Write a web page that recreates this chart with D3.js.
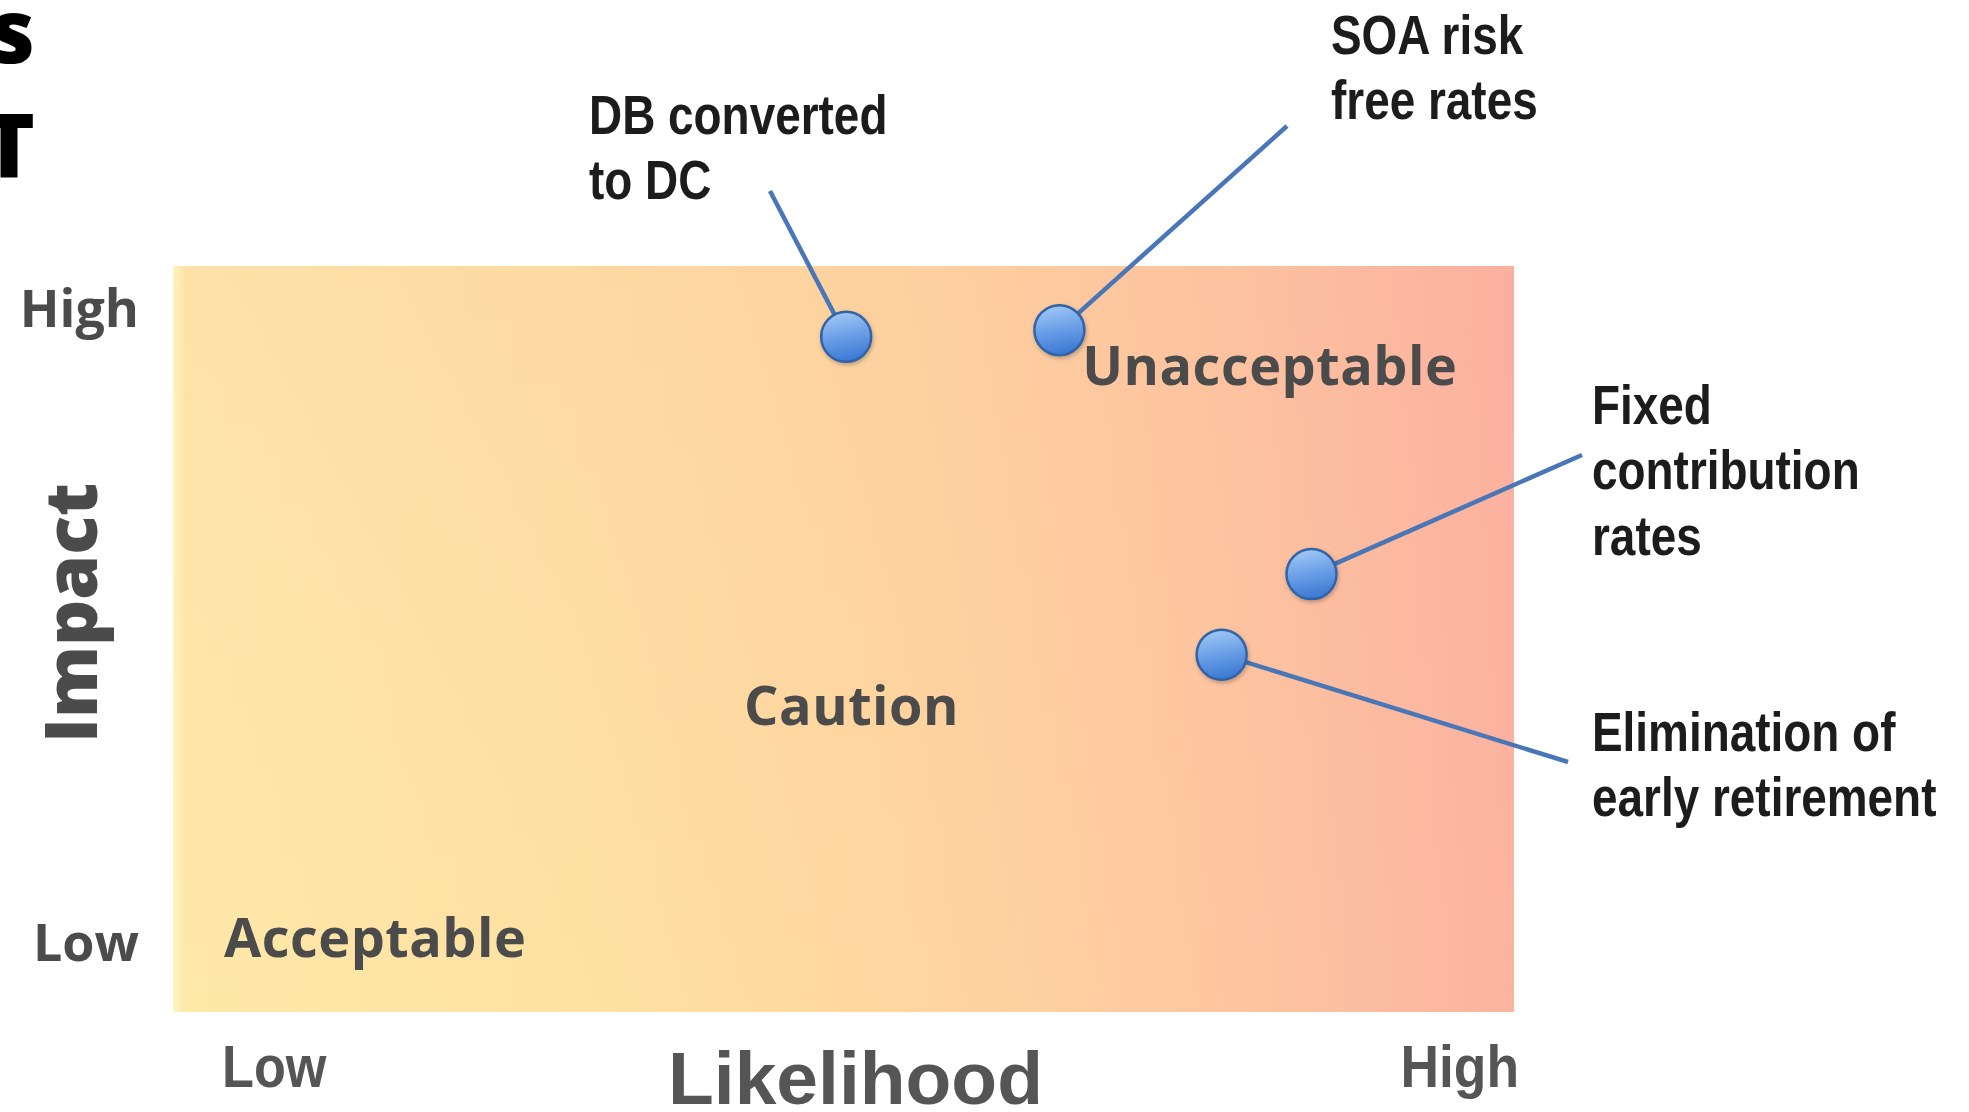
<!DOCTYPE html>
<html>
<head>
<meta charset="utf-8">
<script src="https://cdn.jsdelivr.net/npm/d3@7"></script>
<style>
  html, body { margin: 0; padding: 0; background: #ffffff; }
  svg { display: block; }
</style>
</head>
<body>
<svg id="chart" width="1969" height="1112"></svg>
<script>
// Risk items plotted on the likelihood / impact matrix (0 = low, 1 = high)
const riskLines = [
  ["DB converted", "to DC"],
  ["SOA risk", "free rates"],
  ["Fixed", "contribution", "rates"],
  ["Elimination of", "early retirement"]
];
const likelihood = [0.502, 0.661, 0.849, 0.782];
const impact     = [0.905, 0.914, 0.587, 0.479];

// Zone names and axis wording
const zoneNames = ["Acceptable", "Caution", "Unacceptable"];
const levelLabels = ["Low", "High"];
const xTitle = "Likelihood";
const yTitle = "Impact";
const cutTitle = ["s", "T"];

// Layout: where each callout's leader line ends and its text block starts
const calloutLayout = [
  { ex: 770,  ey: 191, tx: 589,  ty: 134 },
  { ex: 1287, ey: 126, tx: 1331, ty: 54 },
  { ex: 1582, ey: 455, tx: 1592, ty: 424 },
  { ex: 1568, ey: 762, tx: 1592, ty: 751 }
];
// Zone label anchors in scale units
const zoneLayout = [
  { u: 0.038, v: 0.074, anchor: "start" },
  { u: 0.506, v: 0.385, anchor: "middle" },
  { u: 0.678, v: 0.840, anchor: "start" }
];

const svg = d3.select("#chart");
const plot = { left: 173, right: 1514, top: 266, bottom: 1012 };

const x = d3.scaleLinear().domain([0, 1]).range([plot.left, plot.right]);
const y = d3.scaleLinear().domain([0, 1]).range([plot.bottom, plot.top]);

const defs = svg.append("defs");

// Heat background: pale yellow on the left to salmon on the right
const bg = defs.append("linearGradient")
  .attr("id", "heat")
  .attr("x1", 0).attr("y1", 0).attr("x2", 1).attr("y2", 0);
[
  [0.000, "#fee9a9"],
  [0.300, "#fee1a3"],
  [0.550, "#ffd69f"],
  [0.800, "#fdc5a0"],
  [1.000, "#fbb3a0"]
].forEach(([o, c]) => bg.append("stop").attr("offset", o).attr("stop-color", c));

// Slightly warmer tone towards the top
const tint = defs.append("linearGradient")
  .attr("id", "tint")
  .attr("x1", 0).attr("y1", 0).attr("x2", 0).attr("y2", 1);
tint.append("stop").attr("offset", 0).attr("stop-color", "#f59a9a").attr("stop-opacity", 0.10);
tint.append("stop").attr("offset", 1).attr("stop-color", "#f59a9a").attr("stop-opacity", 0);

// Pale rim along the left edge
const rim = defs.append("linearGradient")
  .attr("id", "rim")
  .attr("x1", 0).attr("y1", 0).attr("x2", 1).attr("y2", 0);
rim.append("stop").attr("offset", 0).attr("stop-color", "#fff6c4").attr("stop-opacity", 0.9);
rim.append("stop").attr("offset", 1).attr("stop-color", "#fff6c4").attr("stop-opacity", 0);

// Glossy blue markers
const dotGrad = defs.append("linearGradient")
  .attr("id", "dot").attr("x1", 0.3).attr("y1", 0).attr("x2", 0.5).attr("y2", 1);
dotGrad.append("stop").attr("offset", 0).attr("stop-color", "#a3c9f7");
dotGrad.append("stop").attr("offset", 0.5).attr("stop-color", "#6a9fe6");
dotGrad.append("stop").attr("offset", 1).attr("stop-color", "#3a78d2");

const shadow = defs.append("filter").attr("id", "shadow")
  .attr("x", -0.5).attr("y", -0.5).attr("width", 2).attr("height", 2);
shadow.append("feDropShadow").attr("dx", 1).attr("dy", 2)
  .attr("stdDeviation", 2).attr("flood-color", "#000").attr("flood-opacity", 0.25);

const plotW = x(1) - x(0), plotH = y(0) - y(1);
svg.append("rect")
  .attr("x", x(0)).attr("y", y(1))
  .attr("width", plotW).attr("height", plotH)
  .attr("fill", "url(#heat)");
svg.append("rect")
  .attr("x", x(0)).attr("y", y(1))
  .attr("width", plotW).attr("height", plotH)
  .attr("fill", "url(#tint)");
svg.append("rect")
  .attr("x", x(0)).attr("y", y(1))
  .attr("width", 12).attr("height", plotH)
  .attr("fill", "url(#rim)");

// Cropped heading letters at the top-left edge
svg.append("g")
  .selectAll("text")
  .data(cutTitle)
  .join("text")
  .attr("x", 35)
  .attr("y", (d, i) => i === 0 ? 63 : 177)
  .attr("text-anchor", "end")
  .attr("font-family", "'Open Sans', sans-serif")
  .attr("font-weight", 800)
  .attr("font-size", 88)
  .attr("fill", "#000")
  .text(d => d);

// Zone labels
const zoneFont = "'Open Sans', sans-serif";
svg.append("g")
  .selectAll("text")
  .data(zoneNames)
  .join("text")
  .attr("x", (d, i) => x(zoneLayout[i].u))
  .attr("y", (d, i) => y(zoneLayout[i].v))
  .attr("text-anchor", (d, i) => zoneLayout[i].anchor)
  .attr("font-family", zoneFont)
  .attr("font-weight", 700)
  .attr("font-size", 54)
  .attr("letter-spacing", 0.5)
  .attr("fill", "#4b4b4b")
  .text(d => d);

// Impact axis: level labels and title
svg.append("g")
  .selectAll("text")
  .data(levelLabels)
  .join("text")
  .attr("x", 139)
  .attr("y", d => d === "High" ? 327 : 961)
  .attr("text-anchor", "end")
  .attr("font-family", zoneFont)
  .attr("font-weight", 700)
  .attr("font-size", 52)
  .attr("fill", "#4b4b4b")
  .text(d => d);

svg.append("text")
  .attr("transform", `translate(97,${(y(0) + y(1)) / 2 - 26}) rotate(-90)`)
  .attr("text-anchor", "middle")
  .attr("font-family", zoneFont)
  .attr("font-weight", 800)
  .attr("font-size", 72)
  .attr("fill", "#4b4b4b")
  .text(yTitle);

// Likelihood axis: level labels and title
const xl = svg.append("g");
xl.selectAll("text")
  .data(levelLabels)
  .join("text")
  .attr("transform", d => d === "Low"
      ? `translate(${x(0) + 49},1087) scale(0.87,1)`
      : `translate(${x(1) + 5},1087) scale(0.89,1)`)
  .attr("text-anchor", d => d === "Low" ? "start" : "end")
  .attr("font-family", "'Liberation Sans', Arial, sans-serif")
  .attr("font-weight", 700)
  .attr("font-size", 60)
  .attr("fill", "#555555")
  .text(d => d);

svg.append("text")
  .attr("x", 668)
  .attr("y", 1104)
  .attr("font-family", "'Liberation Sans', Arial, sans-serif")
  .attr("font-weight", 700)
  .attr("font-size", 75)
  .attr("fill", "#555555")
  .text(xTitle);

// Leader lines from each marker to its callout
const risks = likelihood.map((v, i) => ({
  lx: v, ly: impact[i], lines: riskLines[i], lay: calloutLayout[i]
}));

svg.append("g")
  .selectAll("line")
  .data(risks)
  .join("line")
  .attr("x1", d => x(d.lx)).attr("y1", d => y(d.ly))
  .attr("x2", d => d.lay.ex).attr("y2", d => d.lay.ey)
  .attr("stroke", "#4876b6")
  .attr("stroke-width", 4.5)
  .attr("stroke-linecap", "butt");

svg.append("g")
  .selectAll("circle")
  .data(risks)
  .join("circle")
  .attr("cx", d => x(d.lx)).attr("cy", d => y(d.ly))
  .attr("r", 25)
  .attr("fill", "url(#dot)")
  .attr("stroke", "#3363a6")
  .attr("stroke-width", 2.5)
  .attr("filter", "url(#shadow)");

// Callout text in a narrow bold face
const callouts = svg.append("g")
  .selectAll("g")
  .data(risks)
  .join("g")
  .attr("transform", d => `translate(${d.lay.tx},${d.lay.ty}) scale(0.82,1)`);

callouts.selectAll("text")
  .data(d => d.lines)
  .join("text")
  .attr("x", 0)
  .attr("y", (d, i) => i * 65.5)
  .attr("font-family", "'Liberation Sans', Arial, sans-serif")
  .attr("font-weight", 700)
  .attr("font-size", 56)
  .attr("fill", "#1c1c1c")
  .text(d => d);
</script>
</body>
</html>
